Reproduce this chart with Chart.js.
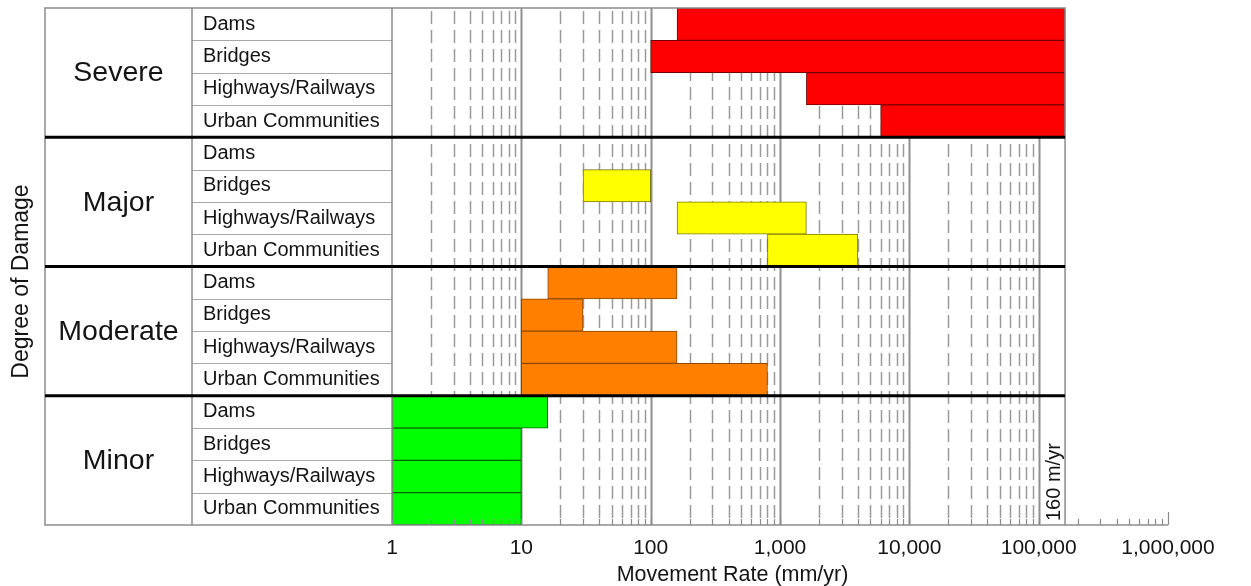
<!DOCTYPE html>
<html>
<head>
<meta charset="utf-8">
<script src="https://cdn.jsdelivr.net/npm/chart.js@4/dist/chart.umd.min.js"></script>
<style>
  html, body { margin: 0; padding: 0; background: #fff; }
  #wrap { width: 1251px; height: 586px; position: relative; }
</style>
</head>
<body>
<div id="wrap"><canvas id="damageChart"></canvas></div>
<script>
// === data ===
const groups = ['Severe', 'Major', 'Moderate', 'Minor'];
const facilities = ['Dams', 'Bridges', 'Highways/Railways', 'Urban Communities'];

// movement rate ranges (mm/yr) per facility, in the order above
const severeLow = [160, 100, 1600, 6000];
const severeHigh = [160000, 160000, 160000, 160000];
const majorLow = [null, 30, 160, 800];
const majorHigh = [null, 100, 1600, 4000];
const moderateLow = [16, 10, 10, 10];
const moderateHigh = [160, 30, 160, 800];
const minorLow = [1, 1, 1, 1];
const minorHigh = [16, 10, 10, 10];

const xLabelValues = [1, 10, 100, 1000, 10000, 100000, 1000000];
const xTickLabels = ['1', '10', '100', '1,000', '10,000', '100,000', '1,000,000'];
const xTitle = 'Movement Rate (mm/yr)';
const yTitle = 'Degree of Damage';
const frameMax = 160000;   // 160 m/yr
const frameNote = '160 m/yr';

// every 1..9 step in each decade, plus the last decade
const xTickValues = [];
xLabelValues.slice(0, -1).forEach(d => {
  for (let k = 1; k <= 9; k++) xTickValues.push(d * k);
});
xTickValues.push(1000000);

const rowLabels = [];
groups.forEach(() => facilities.forEach(f => rowLabels.push(f)));

const series = [
  { label: 'Severe', low: severeLow, high: severeHigh, color: '#ff0000', edge: '#700000' },
  { label: 'Major', low: majorLow, high: majorHigh, color: '#ffff00', edge: '#7a7a00' },
  { label: 'Moderate', low: moderateLow, high: moderateHigh, color: '#ff7f00', edge: '#8f4700' },
  { label: 'Minor', low: minorLow, high: minorHigh, color: '#00ff00', edge: '#006400' }
];

const datasets = series.map((s, g) => ({
  label: s.label,
  data: rowLabels.map((_, i) => {
    const j = i % 4;
    return Math.floor(i / 4) === g && s.low[j] != null ? [s.low[j], s.high[j]] : null;
  }),
  backgroundColor: s.color,
  borderColor: s.edge,
  borderWidth: 1,
  borderSkipped: false,
  barPercentage: 1,
  categoryPercentage: 1,
  grouped: false
}));

// === layout (pixels) ===
const tableLeft = 45;
const labelLeft = 203;
const dividerX = 192;
const textColor = '#141414';
const frameColor = '#8c8c8c';

Chart.defaults.font.family = '"Liberation Sans", Arial, sans-serif';

const tablePlugin = {
  id: 'table',
  beforeDatasetsDraw(chart) {
    const { ctx, chartArea: a, scales: { x } } = chart;
    ctx.save();
    xTickValues.forEach(v => {
      if (v <= 1 || v >= frameMax) return;
      const major = xLabelValues.includes(v);
      const px = Math.round(x.getPixelForValue(v)) + 0.5;
      ctx.beginPath();
      ctx.setLineDash(major ? [] : [13, 6]);
      ctx.lineDashOffset = -3;
      ctx.lineWidth = major ? 2 : 1.5;
      ctx.strokeStyle = major ? '#8f8f8f' : '#9a9a9a';
      ctx.moveTo(px, a.top);
      ctx.lineTo(px, a.bottom);
      ctx.stroke();
    });
    ctx.restore();
  },
  afterDatasetsDraw(chart) {
    const { ctx, chartArea: a, scales: { x, y } } = chart;
    const xEnd = x.getPixelForValue(frameMax);
    const half = (y.getPixelForValue(1) - y.getPixelForValue(0)) / 2;
    const edge = i => y.getPixelForValue(i) - half;
    ctx.save();

    // thin row lines in the label column
    ctx.strokeStyle = '#a8a8a8';
    ctx.lineWidth = 1;
    for (let i = 1; i < rowLabels.length; i++) {
      if (i % 4 === 0) continue;
      const py = Math.round(edge(i)) + 0.5;
      ctx.beginPath();
      ctx.moveTo(dividerX, py);
      ctx.lineTo(a.left, py);
      ctx.stroke();
    }

    // small tick marks along the bottom
    ctx.strokeStyle = '#8a8a8a';
    ctx.lineWidth = 1.2;
    xTickValues.forEach(v => {
      const px = Math.round(x.getPixelForValue(v)) + 0.5;
      const len = v === 1000000 ? 13 : 6;
      ctx.beginPath();
      ctx.moveTo(px, a.bottom);
      ctx.lineTo(px, a.bottom - len);
      ctx.stroke();
    });

    // outer frame and column dividers
    ctx.strokeStyle = frameColor;
    ctx.lineWidth = 1.5;
    ctx.strokeRect(tableLeft, a.top, xEnd - tableLeft, a.bottom - a.top);
    [dividerX, a.left].forEach(px => {
      ctx.beginPath();
      ctx.moveTo(px, a.top);
      ctx.lineTo(px, a.bottom);
      ctx.stroke();
    });
    // axis continues past the frame
    ctx.beginPath();
    ctx.moveTo(xEnd, a.bottom);
    ctx.lineTo(a.right, a.bottom);
    ctx.stroke();

    // thick group separators
    ctx.strokeStyle = '#000';
    ctx.lineWidth = 3;
    for (let g = 1; g < groups.length; g++) {
      const py = edge(g * 4);
      ctx.beginPath();
      ctx.moveTo(tableLeft, py);
      ctx.lineTo(xEnd, py);
      ctx.stroke();
    }

    // group names
    ctx.fillStyle = textColor;
    ctx.font = '28.5px "Liberation Sans", Arial, sans-serif';
    ctx.textAlign = 'center';
    ctx.textBaseline = 'middle';
    groups.forEach((name, g) => {
      const cy = (edge(g * 4) + edge(g * 4 + 4)) / 2;
      ctx.fillText(name, (tableLeft + dividerX) / 2, cy + 1);
    });

    // x title, centred under the framed part of the axis
    ctx.font = '21.5px "Liberation Sans", Arial, sans-serif';
    ctx.fillText(xTitle, (a.left + xEnd) / 2 + 4, a.bottom + 50);

    // y title
    ctx.font = '23px "Liberation Sans", Arial, sans-serif';
    ctx.translate(22, (a.top + a.bottom) / 2 + 15);
    ctx.rotate(-Math.PI / 2);
    ctx.fillText(yTitle, 0, 0);
    ctx.setTransform(1, 0, 0, 1, 0, 0);

    // 160 m/yr note
    ctx.font = '20px "Liberation Sans", Arial, sans-serif';
    ctx.textAlign = 'left';
    ctx.translate(xEnd - 11, a.bottom - 4);
    ctx.rotate(-Math.PI / 2);
    ctx.fillText(frameNote, 0, 0);
    ctx.restore();
  }
};

new Chart(document.getElementById('damageChart'), {
  type: 'bar',
  data: { labels: rowLabels, datasets: datasets },
  options: {
    indexAxis: 'y',
    responsive: true,
    maintainAspectRatio: false,
    animation: false,
    layout: { padding: { left: labelLeft, top: 8, right: 83, bottom: 0 } },
    plugins: { legend: { display: false }, tooltip: { enabled: false } },
    scales: {
      x: {
        type: 'logarithmic',
        position: 'bottom',
        min: 1,
        max: 1000000,
        afterBuildTicks: s => { s.ticks = xTickValues.map(v => ({ value: v })); },
        afterFit: s => { s.height = 61; },
        grid: { display: false, drawTicks: false },
        border: { display: false },
        ticks: {
          autoSkip: false,
          maxRotation: 0,
          padding: 11,
          color: textColor,
          font: { size: 21 },
          callback: v => {
            const i = xLabelValues.indexOf(v);
            return i >= 0 ? xTickLabels[i] : '';
          }
        },
        title: { display: false }
      },
      y: {
        type: 'category',
        offset: true,
        afterFit: s => {
          s.width = 392 - labelLeft;
          s.paddingTop = 0;
          s.paddingBottom = 0;
        },
        grid: { display: false, drawTicks: false },
        border: { display: false },
        ticks: {
          autoSkip: false,
          crossAlign: 'far',
          padding: 0,
          color: textColor,
          font: { size: 20 }
        }
      }
    }
  },
  plugins: [tablePlugin]
});
</script>
</body>
</html>
